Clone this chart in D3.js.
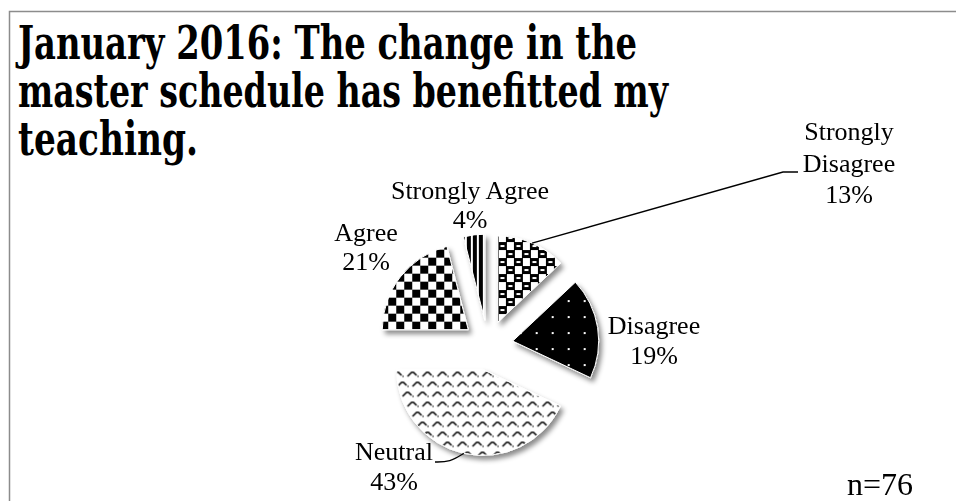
<!DOCTYPE html>
<html>
<head>
<meta charset="utf-8">
<script src="https://cdn.jsdelivr.net/npm/d3@7/dist/d3.min.js"></script>
<style>
  html, body { margin: 0; padding: 0; background: #fff; overflow: hidden; }
  text { fill: #000; }
  .title { font-family: "DejaVu Serif", "Liberation Serif", serif; font-weight: bold; }
  .lbl { font-family: "Liberation Serif", "Times New Roman", serif; }
</style>
</head>
<body>
<svg id="chart" width="956" height="501"></svg>
<script>
// ---- data ----
const categories = ["Strongly Disagree", "Disagree", "Neutral", "Agree", "Strongly Agree"];
const shares = [13, 19, 43, 21, 4];
const labelNameLines = [["Strongly", "Disagree"], ["Disagree"], ["Neutral"], ["Agree"], ["Strongly Agree"]];
const titleLines = ["January 2016: The change in the", "master schedule has benefitted my", "teaching."];
const sampleNote = "n=76";

// ---- layout ----
const W = 956, H = 501;
const center = [488, 345];
const radius = 86;
const explode = 25;
const labelSize = 26;
const titleX = 18, titleSize = 47, titleLead = 48;
const titleWidths = [619, 650, 180];
// label block: centre x, baseline of the first line, line step
const labelPos = [
  { x: 849, y: 140, lead: 31.5 },
  { x: 654, y: 334, lead: 30 },
  { x: 394, y: 460, lead: 30 },
  { x: 366, y: 241, lead: 29 },
  { x: 470, y: 199, lead: 29 }
];

const svg = d3.select("#chart");
const defs = svg.append("defs");

// frame
svg.append("rect")
  .attr("x", 9.5).attr("y", 11.5)
  .attr("width", W).attr("height", H)
  .attr("fill", "none").attr("stroke", "#8c8c8c").attr("stroke-width", 1.5);

// ---- fill patterns ----
function pattern(id, w, h) {
  return defs.append("pattern").attr("id", id)
    .attr("patternUnits", "userSpaceOnUse")
    .attr("width", w).attr("height", h);
}
// strongly disagree: staggered rings
{
  const p = pattern("pat0", 16, 16);
  p.append("rect").attr("width", 16).attr("height", 16).attr("fill", "#fff");
  p.append("path").attr("fill", "#000").attr("fill-rule", "evenodd")
    .attr("d", "M0,0h9v8h-9z M2.5,3h4v2h-4z M8,8h9v8h-9z M10.5,11h4v2h-4z M-8,8h9v8h-9z");
}
// disagree: black with white dots
{
  const p = pattern("pat1", 16, 16);
  p.append("rect").attr("width", 16).attr("height", 16).attr("fill", "#000");
  p.append("rect").attr("x", 7).attr("y", 7).attr("width", 2).attr("height", 2).attr("fill", "#fff");
}
// neutral: divot marks in diagonal chains
{
  const p = pattern("pat2", 15, 30);
  p.append("rect").attr("width", 15).attr("height", 30).attr("fill", "#fff");
  const mark = (x, y) => `M${x},${y + 7} L${x + 4},${y + 3} L${x + 6},${y + 3} L${x + 9},${y + 6} M${x + 10},${y + 7} L${x + 11},${y + 7}`;
  const d = [[0, 0], [5, 10], [10, 20], [-5, 20], [15, 0], [-10, 10], [0, 30], [5, -20], [-15, 0]]
    .map(([x, y]) => mark(x, y)).join(" ");
  p.append("path").attr("fill", "none").attr("stroke", "#000").attr("stroke-width", 1.5).attr("d", d);
}
// agree: checkerboard
{
  const p = pattern("pat3", 16, 16);
  p.append("rect").attr("width", 16).attr("height", 16).attr("fill", "#fff");
  p.append("path").attr("fill", "#000").attr("d", "M0,0h8v8h-8z M8,8h8v8h-8z");
}
// strongly agree: vertical stripes
{
  const p = pattern("pat4", 6, 6);
  p.append("rect").attr("width", 6).attr("height", 6).attr("fill", "#fff");
  p.append("rect").attr("width", 4).attr("height", 6).attr("fill", "#000");
}

// soft drop shadow under the slices
const shadow = defs.append("filter").attr("id", "shadow")
  .attr("x", "-20%").attr("y", "-20%").attr("width", "140%").attr("height", "140%");
shadow.append("feDropShadow")
  .attr("dx", 3).attr("dy", 4).attr("stdDeviation", 2.5)
  .attr("flood-color", "#000").attr("flood-opacity", 0.45);

// ---- title (condensed to fit each line's box) ----
svg.append("g").selectAll("text").data(titleLines).join("text")
  .attr("class", "title")
  .attr("x", titleX)
  .attr("y", (d, i) => 59 + i * titleLead)
  .attr("font-size", titleSize)
  .attr("textLength", (d, i) => titleWidths[i])
  .attr("lengthAdjust", "spacingAndGlyphs")
  .text(d => d);

// ---- pie ----
const arcs = d3.pie().sort(null).value(d => d)(shares);
const arc = d3.arc().innerRadius(0).outerRadius(radius);

function offsetOf(a) {
  const mid = (a.startAngle + a.endAngle) / 2;
  return [center[0] + explode * Math.sin(mid), center[1] - explode * Math.cos(mid)];
}

const slices = svg.append("g").attr("filter", "url(#shadow)");
slices.selectAll("path").data(arcs).join("path")
  .attr("transform", a => `translate(${offsetOf(a)})`)
  .attr("d", arc)
  .attr("fill", (a, i) => `url(#pat${i})`)
  .attr("stroke", "#fff")
  .attr("stroke-width", 1);

// ---- leader lines ----
function edgePoint(i) {
  const a = arcs[i];
  const o = offsetOf(a);
  const mid = (a.startAngle + a.endAngle) / 2;
  return [o[0] + radius * Math.sin(mid), o[1] - radius * Math.cos(mid)];
}
{
  const p = edgePoint(0);
  svg.append("path").attr("fill", "none").attr("stroke", "#000").attr("stroke-width", 1.3)
    .attr("d", d3.line()([p, [783, 172], [798, 172]]));
}
{
  const p = edgePoint(2);
  svg.append("path").attr("fill", "none").attr("stroke", "#000").attr("stroke-width", 1.3)
    .attr("d", d3.line().curve(d3.curveBasis)([p, [450, 462], [435, 462]]));
}

// ---- data labels ----
arcs.forEach((a, i) => {
  const lines = labelNameLines[i].concat([`${shares[i]}%`]);
  const pos = labelPos[i];
  svg.append("g").selectAll("text").data(lines).join("text")
    .attr("class", "lbl")
    .attr("x", pos.x)
    .attr("y", (d, j) => pos.y + j * pos.lead)
    .attr("text-anchor", "middle")
    .attr("font-size", labelSize)
    .text(d => d);
});

// ---- sample size ----
svg.append("text")
  .attr("class", "lbl")
  .attr("x", 847).attr("y", 495)
  .attr("font-size", 32)
  .text(sampleNote);
</script>
</body>
</html>
